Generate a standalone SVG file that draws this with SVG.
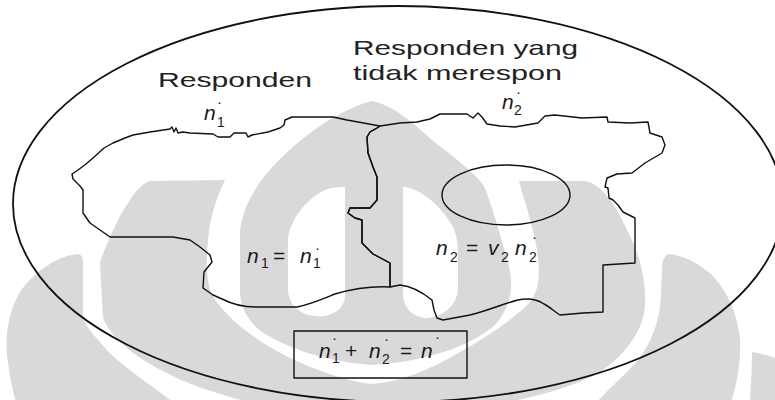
<svg xmlns="http://www.w3.org/2000/svg" width="775" height="400" viewBox="0 0 775 400">
  <style>
    .wm { fill: #d9d9d9; stroke: none; }
    .line { fill: none; stroke: #111; stroke-width: 1.4; stroke-linejoin: round; }
    .frame { fill: none; stroke: #111; stroke-width: 1.8; }
    .lbl { font-family: "Liberation Sans", Arial, sans-serif; font-size: 21px; fill: #222; }
    .m { font-family: "Liberation Sans", Arial, sans-serif; font-style: italic; font-size: 21px; fill: #1a1a1a; }
    .sub { font-style: normal; font-size: 14px; }
    .op { font-style: normal; font-size: 21px; }
    .dot { font-style: normal; font-size: 15px; }
  </style>

  <rect width="775" height="400" fill="#ffffff"/>

  <!-- background emblem (light grey) -->
  <g id="emblem">
    <path class="wm" d="M 78,254 C 60,255 35,270 20,292 C 8,312 4,340 8,362 C 10,380 14,395 18,410 L 728,410 C 736,390 741,365 740,340 C 738,315 728,292 712,275 C 698,262 682,255 668,254 C 664,256 662,262 662,270 L 661,295 C 660,320 652,342 638,360 C 624,377 606,390 590,410 L 170,410 L 170,400 C 150,384 120,365 105,348 C 95,336 84,326 83,315 L 83,262 C 83,257 81,254 78,254 Z"/>
    <path class="wm" d="M 150,181 L 225,180 C 218,195 210,215 208,240 C 206,265 206,285 214,298 C 225,315 250,338 290,358 C 320,372 350,382 372,384 C 400,382 430,370 460,352 C 490,335 515,318 530,302 C 540,290 540,270 537,250 C 533,225 524,200 519,181 L 586,181 C 605,186 618,210 628,232 C 640,255 646,280 645,305 C 644,330 625,355 600,372 C 570,390 520,400 470,410 L 280,410 C 230,398 190,386 165,372 C 140,360 112,340 103,318 L 100,262 C 108,240 118,218 128,203 C 135,192 142,183 150,181 Z"/>
    <path class="wm" fill-rule="evenodd" d="M 372,101 C 395,106 412,122 432,140 C 452,156 472,170 484,186 C 492,205 500,235 508,262 C 514,285 512,305 496,324 C 470,348 420,362 373,365 C 330,362 290,350 262,332 C 246,320 240,305 240,290 L 240,232 C 242,212 250,196 263,178 C 285,150 330,112 372,101 Z M 345,187 L 345,295 C 345,310 330,318 315,316 C 298,314 289,305 288,290 L 288,240 C 290,220 305,200 325,190 C 333,187 340,187 345,187 Z M 403,187 C 420,188 440,205 452,225 C 457,235 458,245 458,255 L 458,290 C 456,308 440,318 425,318 C 410,316 403,305 403,295 Z"/>
    <path class="wm" d="M 752,352 C 760,353 770,356 775,358 L 775,400 L 750,400 C 751,385 752,365 752,352 Z"/>
  </g>

  <!-- whole population -->
  <ellipse id="population" class="frame" cx="398" cy="204" rx="385" ry="198"/>

  <!-- top captions -->
  <text class="lbl" x="158" y="87" textLength="154" lengthAdjust="spacingAndGlyphs">Responden</text>
  <text class="lbl" x="353" y="55" textLength="225" lengthAdjust="spacingAndGlyphs">Responden yang</text>
  <text class="lbl" x="353" y="80" textLength="209" lengthAdjust="spacingAndGlyphs">tidak merespon</text>

  <!-- responding group -->
  <g id="respondents">
    <path class="line" d="M 380,126 L 347,120 L 333,117 L 292,117 L 285,120 L 284,125 L 280,128 L 268,132 L 252,135 L 248,137 L 246,133 L 234,133 L 230,137 L 218,137 L 213,134 L 190,133 L 183,132 L 178,133 L 176,128 L 174,132 L 172,127 L 170,129 L 150,132 L 133,135 L 125,138 L 113,143 L 104,148 L 93,158 L 86,164 L 78,170 L 72,174 L 73,179 L 80,186 L 83,190 L 83,213 L 90,223 L 100,230 L 110,237 L 173,237 L 190,240 L 200,247 L 210,255 L 212,262 L 204,272 L 203,288 L 213,295 L 222,299 C 232,304 242,307 255,307 L 297,307 C 312,304 325,298 335,294 C 352,289 370,286 390,287 L 390,263 L 373,254 L 362,243 L 362,220 L 355,218 L 348,213 L 350,208 L 370,208 L 377,200 L 377,177 L 373,167 L 368,153 L 367,137 L 370,132 L 377,128 Z"/>
    <text class="m"><tspan x="204" y="120">n</tspan><tspan class="sub" x="217" y="127">1</tspan><tspan class="dot" x="217" y="107">·</tspan></text>
    <text class="m"><tspan x="247" y="263">n</tspan><tspan class="sub" x="261" y="268">1</tspan><tspan class="op" x="273" y="263">=</tspan><tspan x="300" y="263">n</tspan><tspan class="sub" x="313" y="268">1</tspan><tspan class="dot" x="315" y="253">·</tspan></text>
  </g>

  <!-- non-responding group -->
  <g id="nonrespondents">
    <path class="line" d="M 380,126 L 400,123 L 417,122 L 430,119 L 440,114 L 467,114 L 473,118 L 476,115 L 478,113 L 482,117 L 487,124 L 500,126 L 515,127 L 538,123 L 545,116 L 555,115 L 582,118 L 607,117 L 608,122 L 630,123 L 648,122 L 650,133 L 662,137 L 665,145 L 662,153 L 645,163 L 632,173 L 617,174 L 607,178 L 605,187 L 608,188 L 609,198 L 613,200 L 618,205 L 623,212 L 635,218 L 635,263 L 603,265 L 603,312 L 583,313 L 560,315 C 555,312 550,307 544,304 C 538,300 528,298 518,300 C 505,303 490,310 470,315 L 443,320 L 437,318 L 434,310 L 432,300 C 422,292 410,286 400,285 L 390,287 L 390,263 L 373,254 L 362,243 L 362,220 L 355,218 L 348,213 L 350,208 L 370,208 L 377,200 L 377,177 L 373,167 L 368,153 L 367,137 L 370,132 L 377,128 Z"/>
    <ellipse id="subsample" class="line" cx="506" cy="195" rx="64" ry="30"/>
    <text class="m"><tspan x="502" y="109">n</tspan><tspan class="sub" x="514" y="115">2</tspan><tspan class="dot" x="516" y="97">·</tspan></text>
    <text class="m"><tspan x="436" y="255">n</tspan><tspan class="sub" x="450" y="262">2</tspan><tspan class="op" x="466" y="255">=</tspan><tspan x="488" y="255">v</tspan><tspan class="sub" x="501" y="262">2</tspan><tspan x="515" y="255">n</tspan><tspan class="sub" x="529" y="262">2</tspan><tspan class="dot" x="532" y="242">·</tspan></text>
  </g>

  <!-- total sample -->
  <g id="total">
    <rect class="line" x="294" y="331" width="173" height="47"/>
    <text class="m"><tspan x="319" y="358">n</tspan><tspan class="sub" x="332" y="363">1</tspan><tspan class="dot" x="332" y="343">·</tspan><tspan class="op" x="345" y="358">+</tspan><tspan x="369" y="358">n</tspan><tspan class="sub" x="382" y="364">2</tspan><tspan class="dot" x="384" y="344">·</tspan><tspan class="op" x="400" y="358">=</tspan><tspan x="421" y="358">n</tspan><tspan class="dot" x="435" y="342">·</tspan></text>
  </g>
</svg>
